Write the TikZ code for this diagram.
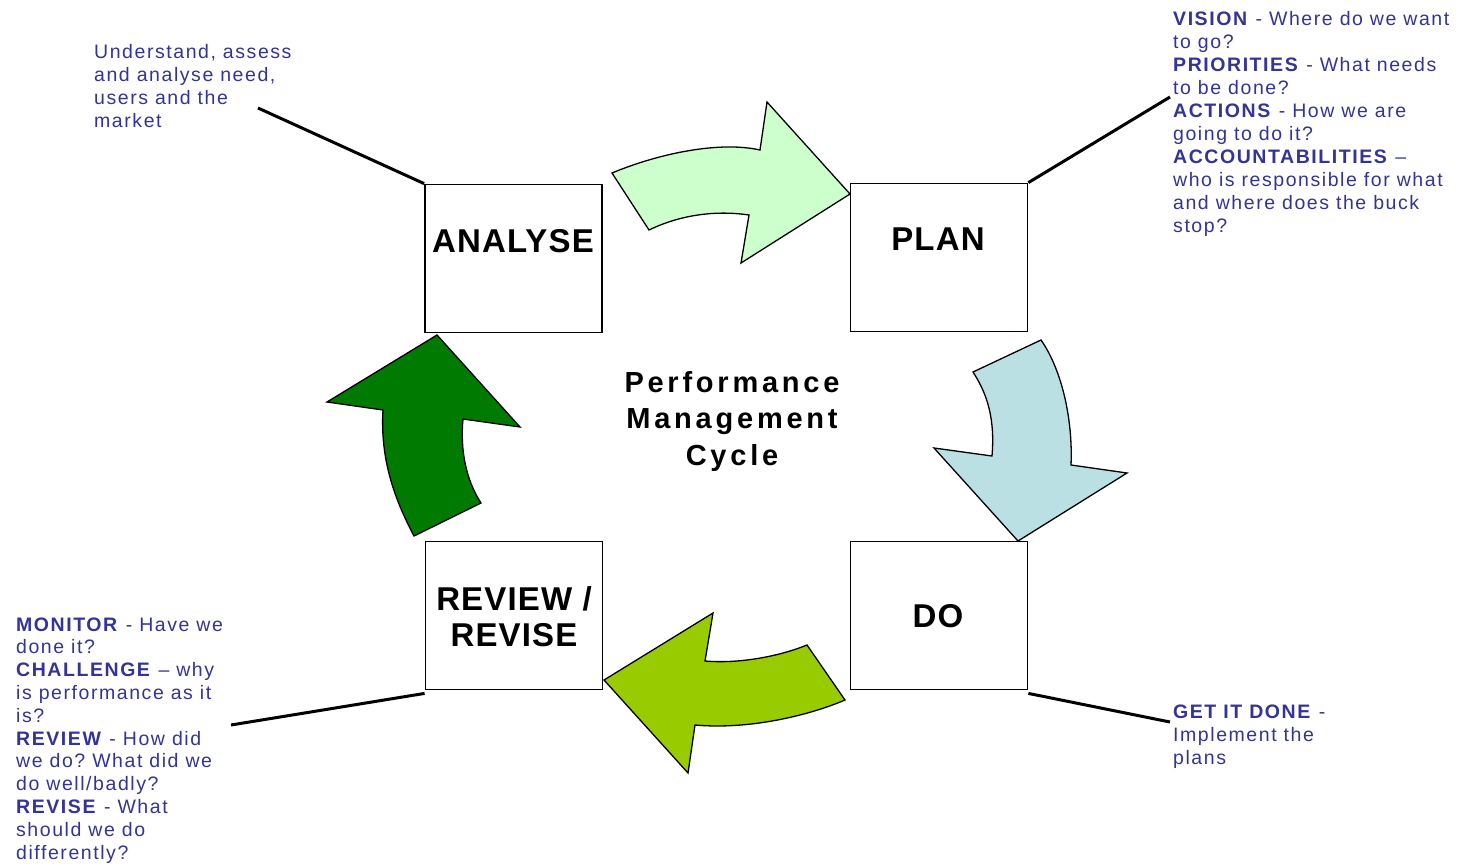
\documentclass[tikz,border=0pt]{standalone}
\usepackage{fontspec}
\setmainfont{Liberation Sans}
\newfontfamily\notefnt[LetterSpace=8]{Liberation Sans}
\newfontfamily\boxfnt[LetterSpace=3.5]{Liberation Sans}
\newfontfamily\centfnt[LetterSpace=13]{Liberation Sans}
\frenchspacing
\definecolor{notecol}{RGB}{51,51,153}
\definecolor{arrA}{RGB}{204,255,204}
\definecolor{arrB}{RGB}{187,224,227}
\definecolor{arrC}{RGB}{153,204,0}
\definecolor{arrD}{RGB}{0,122,0}
\tikzset{
  x=1pt, y=-1pt,
  box/.style={draw=black, line width=1.8pt, fill=white, minimum width=177pt, minimum height=148pt, inner sep=0pt},
  boxlabel/.style={inner sep=0pt, align=center, font=\boxfnt\bfseries\fontsize{33}{36}\selectfont},
  centlabel/.style={inner sep=0pt, align=center, font=\centfnt\bfseries\fontsize{29}{36.5}\selectfont},
  note/.style={inner sep=0pt, anchor=base west, align=left, text=notecol, font=\notefnt\fontsize{19.5}{23}\selectfont},
  leader/.style={line width=3pt, black},
  cyclearrow/.style={draw=black, line width=1.3pt, line join=miter}
}
\begin{document}
\begin{tikzpicture}
\useasboundingbox (0,0) rectangle (1462,863);

% boxes
\node[box] (analyse) at (513.5,258.5) {};
\node[box] (plan) at (939,257.5) {};
\node[box] (do) at (939,615.5) {};
\node[box] (review) at (514,615.5) {};

\node[boxlabel, anchor=base] (analyselbl) at (513,252) {ANALYSE};
\node[boxlabel, anchor=base] (planlbl) at (938,250) {PLAN};
\node[boxlabel, anchor=base] (dolbl) at (938,627) {DO};
\node[boxlabel, anchor=base] (reviewlbl) at (514,646) {REVIEW /\\REVISE};

\node[centlabel, anchor=base] (centre) at (732,465) {Performance\\Management\\Cycle};

% curved arrows
\path[cyclearrow, fill=arrA] (612,173) .. controls (660,153) and (720,141) .. (760,150)
  -- (767,102) -- (850,194) -- (741,263) -- (749,215)
  .. controls (715,210) and (680,215) .. (649,230) -- cycle;
\path[cyclearrow, fill=arrB] (973,372) -- (1041,340)
  .. controls (1062,370) and (1073,420) .. (1071,465)
  -- (1127,473) -- (1018,541) -- (934,448) -- (992,456)
  .. controls (995,420) and (988,395) .. cycle;
\path[cyclearrow, fill=arrC] (807,645) -- (845,700)
  .. controls (810,715) and (750,730) .. (695,725)
  -- (688,773) -- (604,680) -- (713,613) -- (705,661)
  .. controls (740,664) and (780,656) .. cycle;
\path[cyclearrow, fill=arrD] (437,335) -- (520,427) -- (463,419)
  .. controls (460,450) and (466,480) .. (481,503)
  -- (414,536) .. controls (395,500) and (380,460) .. (383,410)
  -- (327,402) -- cycle;

% leader lines
\coordinate (analyseend) at (258,108);
\coordinate (planend) at (1170,97);
\coordinate (reviewend) at (231,725);
\coordinate (doend) at (1170,722);
\draw[leader] (analyse.north west) -- (analyseend);
\draw[leader] (plan.north east) -- (planend);
\draw[leader] ([yshift=-3pt]review.south west) -- (reviewend);
\draw[leader] ([yshift=-3pt]do.south east) -- (doend);

% notes (anchored at the baseline of the last line)
\node[note] (noteanalyse) at (94,127) {Understand, assess\\and analyse need,\\users and the\\market};
\node[note] (noteplan) at (1173,232) {\textbf{VISION} - Where do we want\\to go?\\\textbf{PRIORITIES} - What needs\\to be done?\\\textbf{ACTIONS} - How we are\\going to do it?\\\textbf{ACCOUNTABILITIES} \textendash\\who is responsible for what\\and where does the buck\\stop?};
\node[note, font=\notefnt\fontsize{19.5}{22.8}\selectfont] (notereview) at (16,859) {\textbf{MONITOR} - Have we\\done it?\\\textbf{CHALLENGE} \textendash{} why\\is performance as it\\is?\\\textbf{REVIEW} - How did\\we do? What did we\\do well/badly?\\\textbf{REVISE} - What\\should we do\\differently?};
\node[note] (notedo) at (1173,764) {\textbf{GET IT DONE} -\\Implement the\\plans};
\end{tikzpicture}
\end{document}
